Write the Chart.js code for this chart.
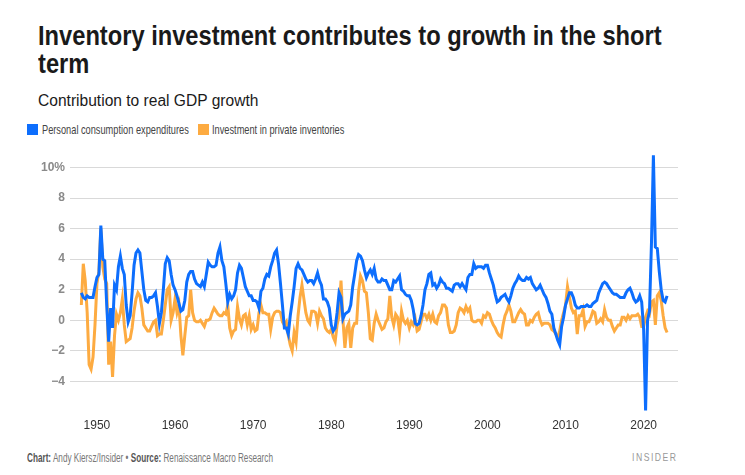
<!DOCTYPE html>
<html>
<head>
<meta charset="utf-8">
<script src="https://cdn.jsdelivr.net/npm/chart.js@4.4.1/dist/chart.umd.min.js"></script>
<style>
  body { margin: 0; background: #fff; width: 745px; height: 475px; position: relative; overflow: hidden; font-family: "Liberation Sans", sans-serif; }
  .squeeze { transform-origin: left top; white-space: nowrap; }
  #title { position: absolute; left: 38px; top: 22px; width: 730px; font-size: 27px; line-height: 28px; font-weight: bold; color: #1a1a1a; transform: scaleX(0.877); transform-origin: left top; }
  #subtitle { position: absolute; left: 38px; top: 92px; font-size: 16px; line-height: 18px; color: #1a1a1a; transform: scaleX(0.973); }
  .lg { position: absolute; top: 123px; font-size: 13px; line-height: 14px; color: #444; transform: scaleX(0.71); }
  .swatch { position: absolute; top: 124px; width: 11px; height: 11px; }
  #chartBox { position: absolute; left: 30px; top: 140px; }
  #footer { position: absolute; left: 27px; top: 451px; font-size: 12.5px; color: #777; transform: scaleX(0.654); }
  #footer b { color: #555; font-weight: bold; }
  #brand { position: absolute; left: 632px; top: 451px; font-size: 11.5px; letter-spacing: 2px; color: #999; transform: scaleX(0.75); }
</style>
</head>
<body>
<div id="title">Inventory investment contributes to growth in the short term</div>
<div id="subtitle" class="squeeze">Contribution to real GDP growth</div>
<span class="swatch" style="left:27px; background:#0d6efd"></span>
<div class="lg squeeze" style="left:42px">Personal consumption expenditures</div>
<span class="swatch" style="left:198px; background:#fdab41"></span>
<div class="lg squeeze" style="left:212px">Investment in private inventories</div>
<div id="chartBox"><canvas id="chart" width="660" height="297"></canvas></div>
<div id="footer" class="squeeze"><b>Chart:</b> Andy Kiersz/Insider • <b>Source:</b> Renaissance Macro Research</div>
<div id="brand" class="squeeze">INSIDER</div>

<script>
// Quarterly data, 1948 Q1 to 2023 Q1 (percentage points, year over year)
const startYear = 1948;

// Personal consumption expenditures, one row per year (Q1..Q4)
const pce = [
  1.8, 1.5, 1.4, 1.6,   // 1948
  1.5, 1.5, 1.5, 2.2,
  2.8, 3.0, 6.2, 4.0,   // 1950
  3.9, 1.0, -1.4, 0.8,
  -0.5, 2.3, 2.0, 3.5,
  4.2, 3.4, 3.0, 1.0,
  -0.1, 0.3, 1.8, 3.6,
  4.4, 4.6, 4.4, 3.2,
  2.0, 1.3, 1.2, 1.5,
  1.5, 1.6, 1.8, 0.9,
  -0.2, 0.5, 2.0, 3.7,
  4.1, 3.9, 3.0, 2.3,
  2.0, 1.6, 1.1, 0.6,   // 1960
  0.7, 1.3, 2.5, 3.0,
  3.2, 3.2, 2.7, 2.4,
  2.3, 2.2, 2.5, 2.2,
  3.0, 3.8, 3.6, 3.5,
  3.5, 3.6, 4.4, 4.8,
  3.9, 3.5, 2.4, 1.2,
  1.7, 1.4, 1.6, 2.0,
  3.1, 3.6, 3.4, 2.8,
  2.2, 1.9, 1.6, 1.6,
  1.3, 1.3, 1.2, 0.8,   // 1970
  1.9, 2.1, 2.7, 3.0,
  2.9, 3.5, 3.9, 4.4,
  4.6, 3.7, 2.4, 1.0,
  -0.5, -0.5, -0.9, 0.3,
  1.2, 2.2, 3.4, 3.7,
  3.4, 3.3, 3.0, 2.7,
  2.5, 2.6, 2.6, 2.4,
  2.7, 3.1, 2.6, 2.3,
  1.4, 1.4, 1.2, 0.8,
  -0.3, -0.7, -0.5, 0.5, // 1980
  1.8, 1.5, 0.1, 0.4,
  0.5, 0.6, 1.0, 2.2,
  3.0, 3.9, 4.3, 4.2,
  3.9, 3.3, 2.8, 3.1,
  3.3, 3.0, 3.4, 2.7,
  2.5, 2.5, 2.7, 2.6,
  2.6, 2.3, 2.0, 2.0,
  2.6, 2.5, 2.7, 2.9,
  2.0, 1.9, 1.7, 1.6,
  1.6, 1.3, 0.7, -0.2,  // 1990
  -0.3, -0.2, 0.3, 1.0,
  2.0, 2.4, 3.0, 3.1,
  2.3, 2.4, 2.1, 2.3,
  2.7, 2.5, 2.4, 2.1,
  2.1, 2.0, 1.9, 2.3,
  2.4, 2.4, 2.2, 2.4,
  2.2, 2.0, 2.8, 3.0,
  3.0, 3.7, 3.4, 3.5,
  3.5, 3.5, 3.4, 3.6,
  3.6, 3.1, 2.7, 2.3,   // 2000
  1.7, 1.2, 1.3, 1.5,
  1.6, 1.7, 1.4, 1.2,
  1.6, 2.1, 2.4, 2.6,
  2.9, 2.7, 2.6, 2.6,
  2.8, 2.7, 2.8, 2.4,
  2.2, 2.0, 2.1, 2.3,
  2.0, 1.7, 1.5, 1.1,
  0.6, 0.4, -0.5, -0.9,
  -1.3, -1.6, -0.4, 0.2,
  1.0, 1.4, 1.8, 1.8,   // 2010
  1.5, 1.0, 0.8, 0.8,
  0.9, 0.9, 0.9, 1.0,
  0.9, 0.9, 1.1, 1.2,
  1.3, 1.8, 2.1, 2.4,
  2.5, 2.4, 2.2, 2.0,
  1.8, 1.7, 1.7, 1.6,
  1.5, 1.5, 1.5, 1.8,
  2.0, 2.1, 1.8, 1.4,
  1.2, 1.3, 1.6, 1.2,
  -0.6, -5.9, 0.0, 0.6, // 2020
  5.0, 10.8, 4.8, 4.7,
  3.2, 2.0, 1.3, 1.2,
  1.6                   // 2023 Q1
];

// Investment in private inventories, one row per year (Q1..Q4)
const inventories = [
  1.0, 3.7, 2.6, 0.5,   // 1948
  -2.9, -3.2, -2.4, -0.3,
  2.4, 3.2, 6.0, 3.5,   // 1950
  2.7, 2.4, -2.9, -1.4,
  -3.7, -1.0, 0.4, 0.0,
  0.5, 1.4, -0.3, -1.4,
  -1.3, -1.2, -0.5, 0.6,
  1.4, 1.8, 1.6, 0.8,
  -0.3, -0.5, -0.7, -0.7,
  -0.4, -0.1, 0.0, -1.0,
  -0.9, -0.9, 0.0, 1.0,
  2.0, 2.2, 0.0, 0.5,
  1.4, 0.5, 1.0, -1.0,  // 1960
  -2.3, -1.0, 0.2, 0.3,
  2.0, 0.5, 0.0, -0.1,
  -0.1, 0.0, -0.2, -0.4,
  0.0, 0.0, 0.1, 0.5,
  0.8, 0.6, 0.4, 0.3,
  0.3, 0.5, 0.4, 1.0,
  -0.5, -1.0, -0.7, -0.6,
  0.9, 0.1, -0.3, 0.3,
  0.4, -0.3, 0.3, -0.6,
  -0.3, -0.7, -0.6, 0.5, // 1970
  1.0, 0.5, 0.5, 0.4,
  0.4, -0.6, 0.2, 0.5,
  0.6, 0.6, 0.5, -0.1,
  -0.3, -0.1, -1.0, -1.6,
  -2.0, -0.8, -1.4, 0.3,
  1.5, 2.3, 1.4, 0.5,
  0.0, -0.2, 0.6, 0.6,
  0.5, -0.2, 0.6, 0.3,
  0.1, -0.5, -0.7, -0.8,
  -0.6, -1.1, -1.4, -0.3, // 1980
  0.3, 2.6, 0.0, -1.8,
  -0.5, -0.2, -1.8, -0.5,
  -0.2, -0.2, 1.9, 2.9,
  2.6, 1.9, 1.8, 0.5,
  -1.2, -1.3, -0.2, 0.4,
  0.0, -0.3, -0.6, -0.5,
  -0.1, 0.1, 1.6, 0.2,
  -0.3, 0.4, 0.2, -0.8,
  0.6, 0.0, -0.2, 0.0,
  -0.5, -0.1, -0.3, 0.1, // 1990
  -0.7, -0.6, -0.1, 0.4,
  0.4, 0.1, 0.4, 0.0,
  0.4, -0.1, -0.2, 0.3,
  0.5, 1.0, 1.0, 0.8,
  -0.3, -0.8, -0.8, -0.7,
  -0.3, 0.5, 0.8, 0.7,
  0.5, 0.9, 0.6, 0.8,
  0.0, -0.1, -0.1, 0.0,
  0.0, -0.2, 0.3, 0.2,
  0.5, 0.4, 0.0, -0.3,  // 2000
  -0.5, -0.8, -1.0, -1.1,
  -0.3, 0.3, 0.6, 1.0,
  0.6, -0.1, -0.1, 0.2,
  0.5, 0.7, 0.5, 0.4,
  -0.3, -0.3, 0.0, -0.1,
  0.2, 0.4, 0.5, 0.0,
  -0.3, -0.2, -0.2, -0.2,
  -0.3, -0.6, -0.7, -0.9,
  -1.1, -0.7, 0.0, 0.5,
  1.0, 2.2, 1.5, 0.8,   // 2010
  0.5, 0.6, -0.9, 0.3,
  0.3, 0.7, -0.4, -0.1,
  -0.1, 0.2, 0.6, 0.5,
  -0.2, -0.1, 0.1, -0.1,
  0.7, 0.2, 0.0, 0.0,
  -0.4, -0.7, -0.5, -0.3,
  -0.3, 0.2, 0.2, 0.0,
  0.3, 0.1, 0.3, 0.3,
  0.3, 0.4, 0.2, -0.4,
  -0.4, 0.2, 0.6, 0.4,  // 2020
  1.2, 1.3, -0.3, 1.6,
  1.8, 1.3, 0.3, -0.5,
  -0.8                  // 2023 Q1
];

const xTicks = [1950, 1960, 1970, 1980, 1990, 2000, 2010, 2020];
const yTicks = [-4, -2, 0, 2, 4, 6, 8, 10];

const blue = '#0d6efd';
const orange = '#fdab41';

function toPoints(values) {
  return values.map((v, i) => ({ x: startYear + i / 4, y: v }));
}

const ctx = document.getElementById('chart').getContext('2d');
new Chart(ctx, {
  type: 'line',
  data: {
    datasets: [
      {
        label: 'Personal consumption expenditures',
        data: toPoints(pce),
        borderColor: blue,
        borderWidth: 3,
        pointRadius: 0,
        tension: 0
      },
      {
        label: 'Investment in private inventories',
        data: toPoints(inventories),
        borderColor: orange,
        borderWidth: 3,
        pointRadius: 0,
        tension: 0
      }
    ]
  },
  options: {
    responsive: false,
    animation: false,
    devicePixelRatio: 1,
    layout: { padding: { top: 10, right: 12, left: 0, bottom: 0 } },
    plugins: {
      legend: { display: false },
      tooltip: { enabled: false }
    },
    scales: {
      x: {
        type: 'linear',
        min: 1946.55,
        max: 2024.4,
        afterBuildTicks: axis => { axis.ticks = xTicks.map(v => ({ value: v })); },
        afterFit: axis => { axis.height = 25; },
        grid: { display: false, drawTicks: false },
        border: { display: false },
        ticks: {
          padding: 6,
          color: '#333',
          font: { family: 'Liberation Sans', size: 12 },
          callback: v => String(v),
          maxRotation: 0
        }
      },
      y: {
        min: -6,
        max: 11,
        afterBuildTicks: axis => { axis.ticks = yTicks.map(v => ({ value: v })); },
        afterFit: axis => { axis.width = 40; },
        grid: { color: '#d9d9d9', lineWidth: 1, drawTicks: false },
        border: { display: false },
        ticks: {
          padding: 5,
          color: '#8a8a8a',
          font: { family: 'Liberation Sans', size: 12, weight: 'bold' },
          callback: v => (v === 10 ? '10%' : (v < 0 ? '\u2212' + Math.abs(v) : String(v)))
        }
      }
    }
  }
});
</script>
</body>
</html>
